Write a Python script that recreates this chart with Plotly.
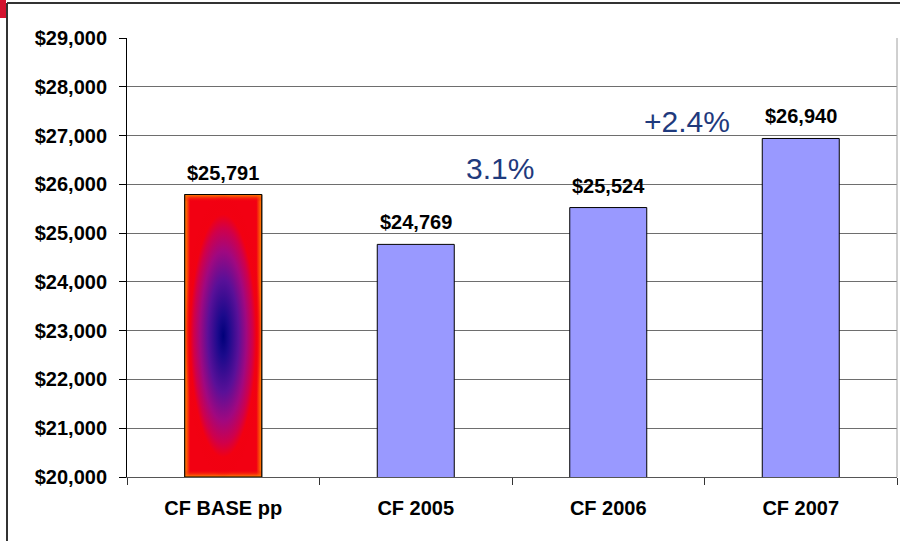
import plotly.graph_objects as go

# data
categories = ["CF BASE pp", "CF 2005", "CF 2006", "CF 2007"]
values = [25791, 24769, 25524, 26940]
growth_labels = ["3.1%", "+2.4%"]

# layout constants (pixels)
W, H = 900, 541
ML, MR, MT, MB = 127, 3, 38, 64
PW, PH = W - ML - MR, H - MT - MB
BAR_WIDTH = 0.4
Y_MIN, Y_MAX = 20000, 29000


def px_x(px):
    return (px - ML) / PW


def px_y(py):
    return (H - MB - py) / PH


fig = go.Figure()

fig.add_trace(go.Bar(
    x=categories,
    y=values,
    width=BAR_WIDTH,
    marker=dict(color="#9999FF", line=dict(color="black", width=1)),
    showlegend=False,
    hoverinfo="x+y",
))

# gradient-filled first bar (three stacked fills), built from the first value
i0 = 0
x0, x1 = i0 - BAR_WIDTH / 2, i0 + BAR_WIDTH / 2
bx = [x0, x1, x1, x0, x0]
by = [Y_MIN, Y_MIN, values[i0], values[i0], Y_MIN]
clear = "rgba(240,0,16,0)"
fills = [
    dict(type="horizontal", colorscale=[[0, "#FF8A00"], [0.07, "#F20012"],
                                        [0.93, "#F20012"], [1, "#FF8A00"]]),
    dict(type="vertical", colorscale=[[0, "#FF8A00"], [0.025, clear],
                                      [0.975, clear], [1, "#FF8A00"]]),
    dict(type="radial", colorscale=[[0.0, "#00007A"], [0.15, "#1C0A8C"],
                                    [0.4, "#5A1098"], [0.6, "#A00880"],
                                    [0.76, "#D0004A"], [0.86, "#F20012"],
                                    [1.0, clear]]),
]
for k, fg in enumerate(fills):
    fig.add_trace(go.Scatter(
        x=bx, y=by, xaxis="x2",
        mode="lines",
        fill="toself",
        fillgradient=fg,
        line=dict(color="black", width=1 if k == len(fills) - 1 else 0),
        showlegend=False,
        hoverinfo="skip",
    ))

bold = dict(family="Liberation Sans, Arial, sans-serif", size=20, color="black", weight="bold")

# value labels above bars
for c, v in zip(categories, values):
    fig.add_annotation(
        x=c, y=v, text=f"${v:,}", showarrow=False,
        yanchor="bottom", yshift=9, font=bold,
    )

# growth labels between bars
growth_pos = [(1.44, 26325), (2.41, 27290)]
for (gx, gy), t in zip(growth_pos, growth_labels):
    fig.add_annotation(
        x=gx, y=gy, xref="x2", text=t, showarrow=False,
        font=dict(family="Liberation Sans, Arial, sans-serif", size=30, color="#1F3A7D"),
    )

# frame decorations
fig.add_shape(type="line", xref="paper", yref="paper",
              x0=1, x1=1, y0=0, y1=1, line=dict(color="#A0A0A0", width=1))
fig.add_shape(type="line", xref="paper", yref="paper",
              x0=px_x(7), x1=px_x(7), y0=px_y(3), y1=px_y(H + 5),
              line=dict(color="#333333", width=2))
fig.add_shape(type="line", xref="paper", yref="paper",
              x0=px_x(7), x1=px_x(W + 5), y0=px_y(3), y1=px_y(3),
              line=dict(color="#333333", width=2))
fig.add_shape(type="rect", xref="paper", yref="paper",
              x0=px_x(-2), x1=px_x(6), y0=px_y(18), y1=px_y(-2),
              fillcolor="#D2122E", line=dict(width=0))

fig.update_layout(
    width=W,
    height=H,
    margin=dict(l=ML, r=MR, t=MT, b=MB),
    paper_bgcolor="white",
    plot_bgcolor="white",
    xaxis=dict(
        type="category",
        range=[-0.5, 3.5],
        tickson="boundaries",
        ticks="outside",
        ticklen=7,
        tickcolor="#333333",
        showline=True,
        linecolor="#555555",
        linewidth=1,
        showgrid=False,
        tickfont=bold,
        ticklabelstandoff=13,
    ),
    xaxis2=dict(
        overlaying="x",
        range=[-0.5, 3.5],
        visible=False,
    ),
    yaxis=dict(
        range=[Y_MIN, Y_MAX],
        dtick=1000,
        tickprefix="$",
        tickformat=",d",
        ticks="outside",
        ticklen=7,
        tickcolor="black",
        showline=True,
        linecolor="black",
        linewidth=1,
        showgrid=True,
        gridcolor="#6E6E6E",
        gridwidth=1,
        zeroline=False,
        tickfont=bold,
        ticklabelstandoff=8,
    ),
    bargap=0.6,
)

fig.write_html("out.html",
               config={"displayModeBar": False},
               post_script="document.body.style.margin='0px';document.body.style.overflow='hidden';")
